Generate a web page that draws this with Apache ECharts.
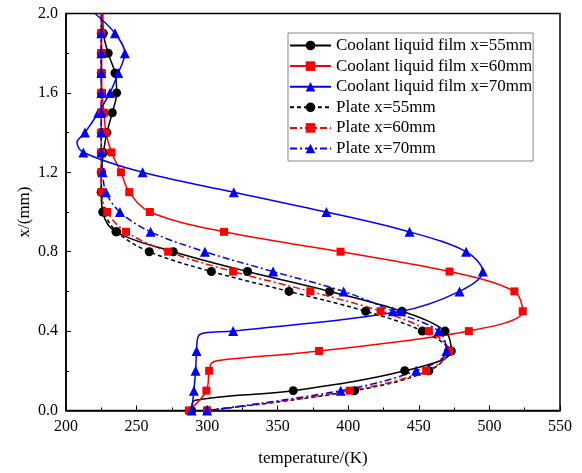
<!DOCTYPE html>
<html>
<head>
<meta charset="utf-8">
<script src="https://cdn.jsdelivr.net/npm/echarts@6/dist/echarts.min.js"></script>
<style>
  html, body { margin: 0; padding: 0; background: #fff; }
  #chart { width: 582px; height: 473px; }
</style>
</head>
<body>
<div id="chart"></div>
<script>
// Wall-normal positions (mm) at which each temperature profile is sampled
const Y_LEVELS = [0.0, 0.1, 0.2, 0.3, 0.4, 0.5, 0.6, 0.7, 0.8, 0.9, 1.0,
                  1.1, 1.2, 1.3, 1.4, 1.5, 1.6, 1.7, 1.8, 1.9, 2.0];

// Temperatures (K) at Y_LEVELS
const coolant55 = [289, 361, 440, 473, 468.6, 438, 386.8, 328.6, 276, 235.4, 226,
                   225, 225.2, 226.5, 229, 232.8, 235.9, 234.7, 229.9, 226.5, 226];
const coolant60 = [287, 299.5, 301.4, 379.3, 485.4, 523.6, 517.7, 471.7, 394.5, 312, 259.4,
                   244.8, 238.9, 232.3, 228.3, 226.9, 225.5, 225.2, 225.2, 225.2, 226];
const coolant70 = [289, 290.6, 291.8, 292.5, 318.4, 437.5, 478.8, 495.3, 483.5, 443.4, 384.5,
                   318.9, 254.3, 212.3, 213.4, 222.9, 231.1, 237, 241.7, 234.7, 220.5];
const plate55   = [300, 404.5, 457.1, 471, 452.4, 412.3, 358, 303, 259, 236, 227,
                   225, 225, 225, 225, 225, 225, 225, 225, 225, 225];
const plate60   = [300, 401, 455.2, 471.5, 457.1, 422.9, 373.1, 318.4, 272.4, 242.5, 229.2,
                   225.2, 225, 225, 225, 225, 225, 225, 225, 225, 225];
const plate70   = [300, 394.6, 448.1, 469.6, 464.1, 431.6, 396.7, 346.7, 298.4, 259.9, 238.2,
                   228.3, 226, 225, 225, 225, 225, 225, 225, 225, 225];

// Extra unmarked [T, x] points that shape the sharp bends of the curves
const coolant55Bends = [[291, 0.05]];
const coolant60Bends = [[303, 0.238], [308, 0.252]];
const coolant70Bends = [[293.6, 0.372], [298, 0.39], [207.8, 1.35]];

const X_TICKS = { min: 200, max: 550, interval: 50 };
const Y_TICKS = { min: 0, max: 2.0, interval: 0.4 };

// Builds line data; the point on the top edge carries no marker
function profile(temps, bends) {
  const top = Y_LEVELS.length - 1;
  const pts = temps.map((t, i) => i === top
    ? { value: [t, Y_LEVELS[i]], symbol: 'none' }
    : { value: [t, Y_LEVELS[i]] });
  (bends || []).forEach(b => pts.push({ value: b, symbol: 'none' }));
  pts.sort((a, b) => a.value[1] - b.value[1]);
  return pts;
}

const SERIF = '"Liberation Serif", "DejaVu Serif", serif';

function series(name, color, symbol, size, dash, temps, bends) {
  return {
    name: name,
    type: 'line',
    smooth: 0.35,
    symbol: symbol,
    symbolSize: size,
    showSymbol: true,
    data: profile(temps, bends),
    lineStyle: { color: color, width: 1.5, type: dash },
    itemStyle: { color: color },
    emphasis: { disabled: true },
    animation: false
  };
}

const chart = echarts.init(document.getElementById('chart'), null, { renderer: 'canvas' });
chart.setOption({
  backgroundColor: '#fff',
  animation: false,
  grid: {
    left: 66, right: 22, top: 13.5, bottom: 62.5,
    show: true, borderColor: '#000', borderWidth: 1.5, backgroundColor: 'transparent'
  },
  legend: {
    orient: 'vertical',
    left: 288, top: 33,
    padding: [4, 1, 4, 1],
    itemGap: 3.6,
    itemWidth: 41, itemHeight: 12,
    borderColor: '#888', borderWidth: 1,
    backgroundColor: '#fff',
    textStyle: { fontFamily: SERIF, fontSize: 17, color: '#000' },
    data: ['Coolant liquid film x=55mm', 'Coolant liquid film x=60mm', 'Coolant liquid film x=70mm',
           'Plate x=55mm', 'Plate x=60mm', 'Plate x=70mm']
  },
  xAxis: {
    type: 'value',
    min: X_TICKS.min, max: X_TICKS.max, interval: X_TICKS.interval,
    name: 'temperature/(K)', nameLocation: 'middle', nameGap: 40,
    nameTextStyle: { fontFamily: SERIF, fontSize: 17, color: '#000' },
    axisLine: { show: true, lineStyle: { color: '#000', width: 1.5 } },
    axisTick: { show: true, inside: true, length: 5, lineStyle: { color: '#000', width: 1 } },
    minorTick: { show: true, splitNumber: 2, length: 3, lineStyle: { color: '#000', width: 1 } },
    axisLabel: { fontFamily: SERIF, fontSize: 16, color: '#000', margin: 8 },
    splitLine: { show: false }
  },
  yAxis: {
    type: 'value',
    min: Y_TICKS.min, max: Y_TICKS.max, interval: Y_TICKS.interval,
    name: 'x/(mm)', nameLocation: 'middle', nameGap: 33, nameRotate: 90,
    nameMoveOverlap: false,
    nameTextStyle: { fontFamily: SERIF, fontSize: 17, color: '#000' },
    axisLine: { show: true, lineStyle: { color: '#000', width: 1.5 } },
    axisTick: { show: true, inside: true, length: 5, lineStyle: { color: '#000', width: 1 } },
    minorTick: { show: true, splitNumber: 2, length: 3, lineStyle: { color: '#000', width: 1 } },
    axisLabel: { fontFamily: SERIF, fontSize: 16, color: '#000', margin: 8,
                 formatter: v => v.toFixed(1) },
    splitLine: { show: false }
  },
  series: [
    series('Coolant liquid film x=55mm', '#000000', 'circle', 9, 'solid', coolant55, coolant55Bends),
    series('Coolant liquid film x=60mm', '#ff0000', 'rect', 8, 'solid', coolant60, coolant60Bends),
    series('Coolant liquid film x=70mm', '#0000ff', 'triangle', 10, 'solid', coolant70, coolant70Bends),
    series('Plate x=55mm', '#000000', 'circle', 9, [4, 3], plate55),
    series('Plate x=60mm', '#ff0000', 'rect', 8, [7, 3, 2, 3], plate60),
    series('Plate x=70mm', '#0000ff', 'triangle', 10, [7, 3, 2, 3], plate70)
  ]
});
</script>
</body>
</html>
